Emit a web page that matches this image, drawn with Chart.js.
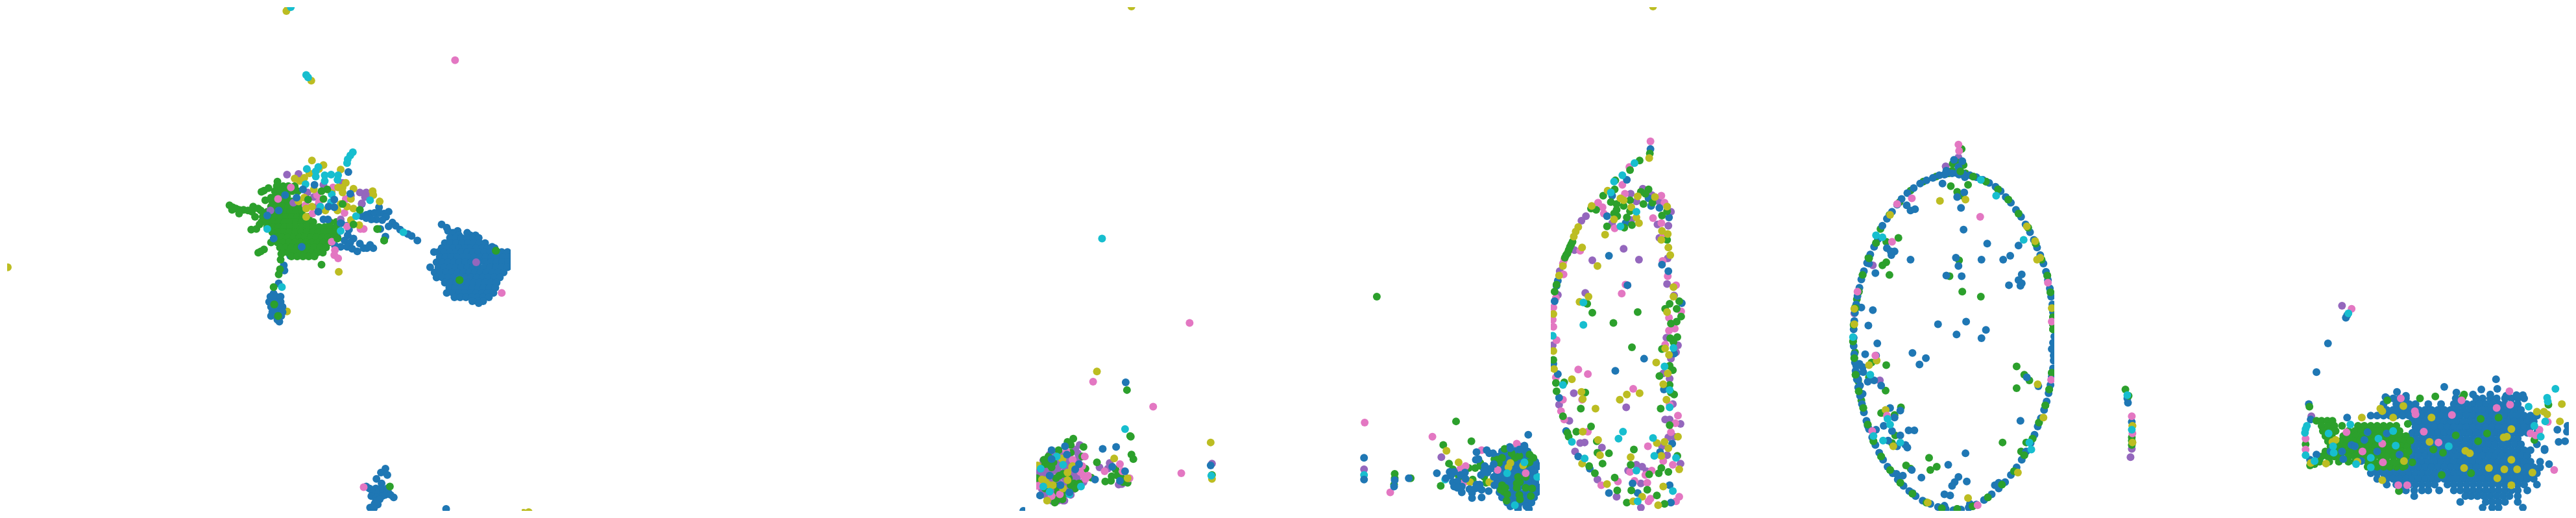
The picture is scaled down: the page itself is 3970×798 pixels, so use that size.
<!DOCTYPE html>
<html><head><meta charset="utf-8">
<script src="https://cdn.jsdelivr.net/npm/chart.js@4"></script>
<style>html,body{margin:0;padding:0;background:#fff;width:3970px;height:798px;overflow:hidden}canvas{position:absolute;top:5px}</style>
</head><body>
<script>
// colours of the six classes
const BLUE='#1f77b4',GREEN='#2ca02c',PURPLE='#9467bd',PINK='#e377c2',OLIVE='#bcbd22',CYAN='#17becf';
// grid-like lists: [y, x, x, x...]   scattered lists: [x,y, x,y, ...]
const a1BlueRows=[[345,685],[350,693],[355,695,710],[358,703,725],[362,712,738,730],[366,698,707,716,725,734,743],[374,690,699,708,717,726,735,744,753],[380,764],[382,685,694,703,712,721,730,739,748,757,768],[388,673,680,689,698,707,716,725,734,743,752,761,770,779,788],[396,682,691,700,709,718,727,736,745,754,763,772,781,790],[404,677,686,695,704,713,722,731,743,753,762,771,780,789],[412,667,680,689,698,707,716,725,734,743,752,761,770,779,788],[420,674,683,692,701,710,719,728,737,746,755,764,773,782],[428,677,686,695,704,713,722,731,740,749,758,767,776],[436,690,699,708,717,726,735,744,753,762,771],[444,697,706,715,724,733,742,751,760,769],[452,693,703,712,721,730,739,748,757,766],[459,705,714,723,732,741,750,759],[465,733,742,750],[468,743],
[453,422],[458,417,426,433],[466,415,424,433],[474,418,427,436],[482,420,429,436],[488,418,427,434],[494,428],[497,431],
[758,572,582,590,600],[765,577,585,593,602],[770,575,592],[772,583,610],[768,597,605],[778,582],[775,588],[782,580],[783,585],[788,573],[789,579]];
const a1Blue=[597,727,590,733,600,737,583,743,591,750,567,755,692,790,587,318,602,325,560,332,567,330,573,328,580,327,588,327,595,328,598,333,592,338,583,337,575,337,567,335,608,342,602,348,613,347,620,353,632,360,638,363,647,370,597,364,589,352,540,353,538,362,547,367,533,370,542,373,527,380,537,380,545,383,553,387,557,375,563,382,573,377,578,382,568,382,518,378,522,365,528,343,537,347,539,263,560,313,448,394,438,409,439,417,430,437];
const a1BlueTop=[466,380,440,299,430,323,412,331,468,290,486,283,458,303,517,306,542,297,508,317,492,325,500,337,517,318,507,337,527,343,422,367];
const a1GreenRows=[[278,428],[285,427,437,445,455],[293,424,433,442,451,460],[301,425,434,443],[309,420,430,440,450,459],[317,418,427,436,445,454,463],[325,412,421,430,439,448,457,466],[333,405,414,423,432,441,450,459,468,477],[341,403,412,421,430,439,448,457,466,475,484,510,520],[349,412,421,430,439,448,457,466,475,484,493,502,511,520],[357,420,429,438,447,456,465,474,483,492,501,510,519],[365,426,435,444,453,462,471,480,489,498,507,516],[373,428,437,446,455,464,473,482,491,500,509],[381,432,441,450,459,468,477,486,495,504],[389,436,445,454,463,472,481,490,499],[395,450,459,468,477,486]];
const a1Green=[353,315,358,318,363,320,368,322,375,322,382,323,368,328,357,322,390,317,398,320,388,325,393,333,402,323,407,292,414,288,403,294,387,353,395,352,400,345,398,389,407,384,402,387,418,373,423,368,497,408,433,400,434,391,432,415,430,423,422,443,409,307,418,303,604,755,423,470,429,488,713,432,770,386,595,370,584,352];
const a1GreenTop=[497,293,506,290,500,305,476,306,557,322,530,313,522,367,547,345,585,352,595,370,423,470,429,488,713,432,770,386];
const a1Purple=[443,267,461,266,567,295,557,295,565,302,573,297,475,295,500,283,530,280,485,302,453,311,417,323,527,337,543,300,560,312,513,292,490,317,739,404];
const a1Pink=[449,287,429,305,490,299,493,310,472,315,515,287,533,327,535,305,563,352,558,352,537,348,513,372,518,385,517,393,523,398,483,328,563,756,779,452,706,88];
const a1Olive=[482,245,500,252,493,258,478,265,470,272,463,277,455,273,527,259,535,280,530,287,523,287,547,289,577,293,578,299,588,309,530,295,513,296,543,305,470,303,461,309,482,317,473,320,503,323,522,323,537,317,527,313,473,333,543,338,556,346,524,419,485,290,547,320,442,11,445,6,447,2,481,120,6,412];
const a1Cyan=[546,232,542,237,538,243,537,249,474,258,488,262,492,255,488,270,502,268,512,267,523,268,522,275,502,277,472,282,513,298,495,317,527,355,551,332,412,352,573,307,435,443,512,310,625,357,449,5,473,111,476,115];
const a2Olive=[801,796,809,795];
const a2Blue=[1583,793];

const b1Purple=[1659,690,1652,697,1656,703,1657,712,1603,735,1623,728,1615,742,1592,733,1652,737,1638,748,1610,767,1633,777,1665,748,1690,725,1706,718,1703,727,1720,752,1725,751,1866,719,2225,709];
const b1PurpleRows=[[705,1612,1622,1632,1642],[714,1602,1612,1622,1632,1642,1652],[723,1597,1607,1617,1627,1637,1647,1657],[732,1595,1605,1615,1625,1635,1645,1655],[741,1595,1605,1615,1625,1635,1645,1655],[750,1597,1607,1617,1627,1637,1647,1657],[759,1600,1610,1620,1630,1640,1650],[768,1605,1615,1625,1635,1645],[777,1615,1625,1635]];
const b1Green=[1649,680,1640,685,1645,690,1665,693,1626,698,1663,708,1668,727,1605,720,1618,717,1645,702,1610,720,1615,725,1627,738,1633,735,1622,742,1650,750,1645,753,1652,758,1658,750,1625,763,1623,776,1632,775,1620,780,1642,742,1592,742,1638,765,1603,713,1610,708,1623,755,1605,758,1686,717,1738,676,1740,705,1743,712,1715,728,1709,739,1718,738,1725,742,1699,747,1708,746,1727,748,1734,749,1677,741,1733,604,1739,677,1866,737,2124,458,2152,735,2152,742,2151,752,2224,754,2177,742,2248,653,2272,684,2228,690,2237,719];
const b1Pink=[1638,700,1667,708,1663,723,1665,738,1672,738,1660,732,1668,743,1615,770,1593,754,1628,767,1648,713,1600,750,1698,731,1722,720,1726,731,1737,742,1680,591,1774,630,1818,734,1831,499,2105,655,2211,677,2145,764];
const b1Olive=[1631,711,1647,724,1593,722,1600,744,1605,745,1617,753,1610,752,1640,733,1648,723,1640,745,1608,777,1633,758,1632,712,1713,711,1734,742,1686,575,1864,686,1866,743,1740,4,2233,699,2252,717];
const b1Cyan=[1623,708,1633,721,1661,755,1612,763,1643,767,1598,727,1602,755,1730,665,1865,738,1694,367,2104,737,2231,744];
const b1Blue=[1636,692,1615,698,1639,705,1658,720,1615,712,1629,753,1643,764,1597,769,1652,728,1612,738,1683,744,1695,696,1716,693,1710,724,1730,731,1722,746,1731,592,1864,722,2104,710,2104,744,2152,745,2151,755,2174,742,2218,734];
const b1Purple2=[2104,728];
const b2BlueRows=[[693,2332,2345,2355],[700,2320,2330,2340,2350,2360],[708,2315,2325,2335,2345,2355,2365],[716,2312,2322,2332,2342,2352,2362,2372],[724,2316,2326,2336,2346,2356,2366,2375],[732,2312,2321,2331,2341,2351,2361,2371],[740,2316,2326,2336,2346,2356,2366,2376],[748,2312,2322,2332,2342,2352,2362,2372],[756,2316,2326,2336,2346,2356,2366,2376],[764,2316,2326,2336,2346,2356,2366,2374],[772,2320,2330,2340,2350,2360,2370],[780,2328,2338,2348,2358,2366],[786,2333,2345,2358],[790,2345,2362]];
const b2Green=[2243,728,2252,738,2268,726,2278,726,2258,742,2274,744,2286,718,2287,723,2292,740,2295,749,2308,712,2324,696,2369,710,2363,705,2323,763,2318,760,2328,767,2345,740,2348,748,2343,750,2357,757,2365,770,2313,713,2320,710,2315,718,2340,710,2347,707,2357,720,2363,717,2327,777,2347,768,2348,775,2335,703,2320,753,2357,740,2325,757,2343,757,2367,758];
const b2Pink=[2288,698,2255,727,2263,723,2260,749,2313,729,2357,734,2343,688];
const b2Olive=[2270,748,2300,748,2333,718,2330,725,2353,722];
const b2Cyan=[2340,784,2328,734,2375,740,2355,717];
const b2Blue=[2280,701,2296,698,2300,703,2306,703,2283,712,2279,713,2238,732,2245,732,2240,738,2232,742,2262,733,2255,737,2243,748,2250,747,2245,755,2257,755,2250,757,2257,764,2269,759,2273,765,2273,773,2288,772,2299,762,2280,752,2285,752,2278,758,2288,760,2282,757,2263,743,2297,733,2302,727,2307,720,2307,740,2308,753,2293,723,2287,737,2292,730,2361,674,2333,695,2355,691,2347,697,2370,730,2375,722];
const b2Purple=[2347,692];

const c1Green=[2539,234,2523,245,2508,260,2485,276,2484,290,2466,300,2447,320,2455,322,2416,376,2412,385,2408,393,2414,380,2410,390,2418,372,2406,397,2393,439,2390,450,2388,557,2392,593,2405,592,2393,606,2403,645,2410,671,2412,677,2444,723,2453,734,2488,761,2484,741,2503,780,2550,769,2562,782,2535,760,2510,761,2509,721,2538,736,2557,726,2553,734,2568,732,2582,707,2514,697,2570,659,2556,633,2577,611,2572,608,2570,596,2554,582,2575,573,2570,566,2558,540,2576,529,2571,523,2582,521,2572,500,2581,497,2588,489,2563,477,2581,477,2570,469,2585,465,2566,369,2558,331,2566,324,2543,311,2529,313,2525,294,2537,290,2532,297,2478,310,2487,313,2487,322,2483,328,2498,316,2508,307,2508,324,2503,334,2511,346,2499,350,2472,348,2488,332,2441,469,2449,483,2520,482,2482,499,2511,537,2438,608,2431,633,2447,661,2424,669,2456,684,2457,702,2475,703,2465,719];
const c1Blue=[2540,227,2503,275,2480,300,2395,433,2393,441,2390,465,2388,563,2395,579,2397,616,2408,668,2427,708,2445,727,2475,765,2520,765,2572,780,2570,753,2512,750,2555,701,2574,688,2561,603,2577,547,2589,468,2568,418,2558,408,2569,334,2554,319,2541,316,2537,304,2501,343,2472,332,2475,394,2504,440,2530,555,2485,574];
const c1Purple=[2439,332,2432,339,2398,418,2395,455,2387,534,2397,627,2413,652,2422,700,2457,744,2487,771,2525,788,2525,750,2518,721,2527,724,2534,731,2505,730,2587,719,2566,706,2558,692,2568,678,2577,677,2587,657,2563,650,2570,650,2575,626,2570,586,2560,578,2572,555,2580,545,2583,534,2565,522,2577,456,2566,438,2567,398,2554,366,2551,345,2568,347,2572,325,2553,309,2528,289,2542,299,2509,297,2518,309,2510,338,2480,343,2421,385,2498,383,2449,401,2522,400,2504,440,2438,452,2420,609,2502,631,2430,687,2437,686,2464,694];
const c1Pink=[2540,215,2507,255,2496,283,2458,311,2465,318,2467,328,2405,400,2403,406,2404,423,2392,460,2388,475,2387,494,2388,505,2393,526,2392,584,2403,619,2400,637,2405,650,2463,753,2489,747,2537,778,2580,778,2585,771,2535,749,2515,746,2540,774,2542,730,2532,737,2508,732,2575,721,2560,715,2536,692,2572,670,2579,656,2583,644,2570,627,2563,533,2569,511,2578,508,2588,481,2569,491,2580,440,2567,426,2559,402,2560,364,2557,343,2544,335,2562,311,2557,300,2500,297,2484,351,2430,386,2501,439,2495,453,2427,572,2442,579,2433,619,2513,602,2442,669];
const c1Olive=[2538,241,2473,292,2448,316,2427,349,2423,356,2420,364,2403,410,2397,425,2388,485,2388,543,2389,571,2433,719,2472,751,2513,778,2527,771,2552,784,2560,755,2585,728,2557,707,2509,709,2550,687,2562,685,2568,695,2583,677,2565,619,2560,595,2567,578,2549,561,2569,549,2563,539,2566,482,2576,458,2576,443,2571,393,2568,381,2557,369,2567,360,2558,355,2566,317,2547,302,2493,304,2498,307,2520,301,2510,318,2518,334,2522,343,2483,337,2469,361,2433,381,2457,410,2443,458,2429,466,2417,587,2432,607,2434,618,2454,633,2503,611,2523,609,2492,619,2434,669,2458,682,2461,706,2544,4];
const c1Cyan=[2515,249,2496,268,2483,278,2478,295,2403,596,2417,685,2437,711,2387,519,2520,778,2575,762,2518,730,2580,710,2546,707,2544,679,2570,631,2570,604,2562,567,2576,538,2518,325,2493,348,2435,467,2435,502,2497,669,2490,680];
const ringBlue=[3020,265,3030,266,3040,268,3050,271,3060,275,3070,280,3080,286,3088,293,3096,302,3104,311,3112,322,3120,333,3127,345,3134,357,3140,369,3145,381,3150,393,3155,406,3159,419,3162,432,3165,445,3167,458,3169,470,3170,482,3171,495,3171,508,3172,520,3172,532,3172,545,3171,558,3170,570,3168,583,3166,596,3163,609,3160,622,3156,635,3151,648,3146,661,3141,674,3135,687,3128,700,3121,713,3113,725,3104,737,3095,748,3085,758,3074,767,3062,776,3050,783,3038,788,3026,791,3014,792,3002,790,2990,787,2978,782,2966,777,2955,770,2945,762,2936,754,2927,744,2919,734,2911,724,2904,713,2898,702,2892,690,2887,678,2882,665,2878,652,2874,639,2871,626,2868,613,2865,600,2863,587,2861,574,2860,561,2859,548,2858,535,2858,522,2858,509,2859,496,2860,483,2862,470,2864,457,2867,444,2870,431,2874,418,2879,405,2884,392,2890,380,2896,368,2903,347,2910,336,2918,325,2926,314,2933,305,2942,296,2952,288,2962,281,2972,276,2982,272,2992,268,3002,266,3012,265];
const ringBlue2=[3015,244,3028,246,3022,255,3003,261,3000,267,3023,267,3032,271,2997,281,3031,295,3020,302,3026,319,3030,353,3067,375,3116,378,3103,394,3092,400,3058,400,3018,397,3022,410,2947,400,3003,425,3027,426,3121,423,3116,432,3121,437,3101,440,3119,441,2870,475,2888,479,2881,503,2990,501,3034,497,3065,510,3019,517,3058,523,2895,531,2950,546,2971,554,2961,564,3129,584,3147,598,3119,652,3033,703,3006,721,2949,729,2964,741,2935,738,3022,740,3016,748,3012,754,3035,747,3085,749,3079,753,3000,767,3009,769,2941,315,2947,323,2954,321,2910,382,2922,387,2917,393,2916,387,2892,421,2882,406,2876,548,2893,550,2867,563,2872,568,2862,566,2863,578,2873,576,2890,589,2901,597,2880,591,2868,597,2865,587,2915,632,2931,636,2922,647,2905,660,2893,666,2918,668,2944,667,2953,667,2931,675,2912,683,2926,692,2939,690,2942,694,3170,530,3171,550,3168,540,3000,785,2950,765,2925,735,2880,660,2872,610,3040,782];
const ringGreen=[3025,262,3045,270,3065,278,3084,290,3100,306,3116,328,3131,350,3143,375,3152,400,3161,425,3166,451,3170,476,3170,509,3170,501,3170,490,3168,577,3164,603,3158,628,3148,655,3138,680,3125,706,3109,731,3090,752,3068,772,3044,786,3020,790,2996,789,2972,780,2950,766,2931,749,2915,729,2901,708,2889,684,2880,658,2873,632,2866,606,2861,580,2859,554,2857,528,2858,502,2861,476,2866,450,2872,424,2882,398,2893,374,2900,352,2914,330,2930,310,2947,292,2967,278,2987,270,3007,265,3013,250,3030,252,3020,248,3012,261,3033,265,3027,227,3010,285,3037,283,3020,294,3028,300,3023,401,3008,426,3028,450,3057,458,3113,567,3125,580,3133,589,3113,601,3091,686,3128,686,3120,700,2976,710,2988,724,2978,729,2940,722,2947,727,2928,366,2909,372,2881,397,2909,404,2903,409,2914,424,2886,561,2909,565,2882,584,2908,605,2901,640,2932,631,2922,643,2923,675,2918,687,2870,620,2865,590,2860,545,2860,475,2863,462];
const ringOlive=[2993,308,3033,306,3146,595,3037,773,2974,780,2915,330,2894,558,2882,565,2908,635,2920,692,3129,348,3142,371,3150,397,3145,400,3168,476,3155,647,3115,733,2859,477,2859,501];
const ringPink=[3022,220,3023,230,3056,333,3052,784,2926,313,2949,304,2918,372,2892,550,2910,644,2887,668,3162,436,3168,497,3167,588,2864,450];
const ringCyan=[3057,275,3081,300,3124,369,3133,686,3136,697,2893,362,2903,365,2884,580,2911,649,2915,658,2889,676,2904,683,2931,686,2857,521];
const ringPurple=[3022,240,3002,254,2888,409,2899,589,2859,484];

const d1Green=[3271,603,3276,613,3281,678,3281,683,3281,690,3559,630,3560,722,3567,720,3756,614,3801,611,3799,615,3732,617,3681,620,3855,647,3827,649,3837,672,3788,675,3823,684,3766,737,3812,734,3708,723,3699,762,3717,683,3753,697,3720,717,3768,702,3692,717,3713,657,3911,682,3933,627,3553,689];
const d1GreenRows=[[652,3570,3578,3587,3595],[660,3578,3588,3598,3610,3635,3645,3655,3665,3675,3685,3695],[668,3580,3590,3600,3620,3630,3640,3650,3660,3670,3680,3690,3700],[676,3584,3594,3612,3622,3632,3642,3652,3662,3672,3682,3692,3702,3710],[684,3588,3598,3608,3618,3628,3638,3648,3658,3668,3678,3688,3698,3708],[692,3592,3602,3612,3622,3632,3642,3652,3662,3672,3682,3692,3702,3712],[700,3584,3594,3604,3614,3624,3634,3644,3654,3664,3674,3684,3694,3704,3714],[708,3578,3588,3598,3608,3620,3630,3640,3650,3660,3670,3680,3690,3700,3710],[716,3575,3590,3605,3620,3630,3650,3660,3670,3680,3690,3700],[724,3650,3665,3675,3685,3695,3705]];
const d1BlueRows=[[617,3680,3690,3700,3710,3788,3820,3830,3842,3852,3865,3875,3885,3895],[626,3675,3695,3705,3715,3725,3745,3765,3785,3795,3805,3815,3825,3835,3845,3855,3865,3875,3885],[635,3680,3690,3700,3710,3720,3730,3740,3750,3760,3770,3780,3790,3800,3810,3820,3830,3840,3850,3860,3870,3880,3890],[644,3655,3665,3675,3685,3695,3705,3715,3725,3735,3745,3755,3765,3775,3785,3795,3805,3815,3825,3835,3845,3855,3865,3875,3885,3895,3905,3915],[653,3720,3730,3740,3750,3760,3770,3780,3790,3800,3810,3820,3830,3840,3850,3860,3870,3880,3890,3900,3910],[662,3725,3735,3745,3755,3765,3775,3785,3795,3805,3815,3825,3835,3845,3855,3865,3875,3885,3895,3905],[671,3720,3730,3740,3750,3760,3770,3780,3790,3800,3810,3820,3830,3840,3850,3860,3870,3880,3890,3900],[680,3715,3725,3735,3745,3755,3765,3775,3785,3795,3805,3815,3825,3835,3845,3855,3865,3875,3885],[689,3720,3730,3740,3750,3760,3770,3780,3790,3800,3810,3820,3830,3840,3850,3860,3870,3880,3890,3915],[698,3715,3725,3735,3745,3755,3765,3775,3785,3795,3805,3815,3825,3835,3845,3855,3865,3875,3885,3895,3905,3927],[707,3720,3730,3740,3750,3760,3770,3780,3790,3800,3810,3820,3830,3840,3850,3860,3870,3880,3890,3900],[716,3715,3725,3735,3745,3755,3765,3775,3785,3795,3805,3815,3825,3835,3845,3855,3865,3875,3885,3895,3905,3920],[725,3660,3670,3680,3690,3700,3710,3720,3730,3740,3750,3760,3770,3780,3790,3800,3810,3820,3830,3840,3850,3860,3870,3880,3890,3900,3910,3920],[734,3655,3665,3675,3685,3695,3705,3715,3725,3735,3745,3755,3765,3775,3785,3795,3805,3815,3825,3835,3845,3855,3865,3875,3885,3895,3905,3915],[743,3665,3680,3690,3700,3710,3720,3730,3740,3750,3760,3770,3780,3790,3800,3810,3820,3830,3840,3850,3860,3870,3880,3890,3900,3910],[752,3680,3695,3705,3715,3725,3735,3745,3755,3775,3785,3795,3805,3815,3825,3835,3845,3855,3865,3875,3885,3895,3915],[761,3700,3710,3723,3735,3745,3762,3785,3795,3805,3815,3825,3835,3845,3855,3865,3875,3885,3900],[770,3723,3803,3812,3822,3832,3842,3852,3862,3872,3885],[779,3795,3835,3845,3855,3865,3885],[788,3830,3845,3855,3893]];
const d1Blue=[3274,617,3275,624,3281,654,3618,487,3616,491,3588,531,3570,576,3558,626,3561,650,3560,713,3770,599,3851,587,3853,602,3828,603,3789,608,3696,607,3678,615,3710,613,3947,666,3963,660,3962,669,3949,685,3959,684,3934,720,3927,696,3918,669,3883,612,3893,612,3867,613,3815,611,3842,611];
const d1BlueTop=[3618,647,3610,700,3625,690,3650,670,3665,700,3592,700,3570,705,3612,712,3640,715,3630,692,3916,669,3680,672,3645,682,3700,705];
const d1Purple=[3281,696,3279,709,3610,472,3562,645,3643,661,3639,689,3682,693,3878,648];
const d1Pink=[3281,645,3282,672,3625,477,3553,680,3553,697,3872,606,3873,627,3852,632,3797,620,3782,643,3738,669,3724,637,3725,642,3702,617,3761,686,3674,717,3712,753,3698,753,3673,688,3617,670,3642,700,3932,654,3919,666,3905,672,3913,675,3942,729];
const d1Olive=[3282,660,3282,686,3561,718,3585,719,3801,726,3840,726,3864,728,3884,728,3853,742,3875,665,3863,678,3868,677,3908,733,3803,699,3810,703,3747,685,3673,745,3634,716,3706,629,3670,633,3673,637,3690,647,3641,647,3750,647,3875,713,3707,715,3600,682,3595,685,3875,753,3954,626,3926,638,3931,642,3951,653,3915,638];
const d1Cyan=[3274,612,3281,666,3620,484,3552,671,3555,660,3553,665,3553,706,3567,715,3623,658,3589,672,3694,691,3655,710,3596,692,3597,702,3667,680,3777,692,3632,720,3690,668,3655,725,3944,602,3931,616,3932,622,3928,653,3902,630,3911,660,3921,677];

// helpers turn the lists into points
const pairs=a=>{const o=[];for(let i=0;i<a.length;i+=2)o.push({x:a[i],y:a[i+1]});return o;};
const rows=r=>r.flatMap(([y,...xs])=>xs.map(x=>({x,y})));
const L=(color,...parts)=>({color,pts:parts.flat()});

const panels=[
 {left:5,layers:[L(OLIVE,pairs([443,481])),L(BLUE,rows(a1BlueRows),pairs(a1Blue)),L(GREEN,rows(a1GreenRows),pairs(a1Green)),L(PURPLE,pairs(a1Purple)),L(PINK,pairs(a1Pink)),L(OLIVE,pairs(a1Olive)),L(CYAN,pairs(a1Cyan)),L(GREEN,pairs(a1GreenTop)),L(BLUE,pairs(a1BlueTop))]},
 {left:798,layers:[L(OLIVE,pairs(a2Olive)),L(BLUE,pairs(a2Blue))]},
 {left:1591,layers:[L(BLUE,rows(b2BlueRows)),L(PURPLE,rows(b1PurpleRows),pairs(b1Purple),pairs(b2Purple),pairs(b1Purple2)),L(GREEN,pairs(b1Green),pairs(b2Green)),L(PINK,pairs(b1Pink),pairs(b2Pink)),L(OLIVE,pairs(b1Olive),pairs(b2Olive)),L(CYAN,pairs(b1Cyan),pairs(b2Cyan)),L(BLUE,pairs(b1Blue),pairs(b2Blue))]},
 {left:2384,layers:[L(PURPLE,pairs(c1Purple),pairs(ringPurple)),L(PINK,pairs(c1Pink)),L(BLUE,pairs(c1Blue)),L(GREEN,pairs(c1Green),pairs(ringGreen)),L(OLIVE,pairs(c1Olive)),L(CYAN,pairs(c1Cyan)),L(BLUE,pairs(ringBlue),pairs(ringBlue2)),L(GREEN,pairs(ringGreen.slice(0,90))),L(OLIVE,pairs(ringOlive)),L(PINK,pairs(ringPink)),L(CYAN,pairs(ringCyan))]},
 {left:3177,layers:[L(PURPLE,pairs(d1Purple)),L(OLIVE,pairs(d1Olive.slice(0,4))),L(BLUE,rows(d1BlueRows),pairs(d1Blue)),L(GREEN,rows(d1GreenRows),pairs(d1Green)),L(BLUE,pairs(d1BlueTop)),L(PINK,pairs(d1Pink)),L(OLIVE,pairs(d1Olive)),L(CYAN,pairs(d1Cyan))]}
];
const SIZE=788;
panels.forEach(p=>{
  const c=document.createElement('canvas');c.width=SIZE;c.height=SIZE;c.style.left=p.left+'px';document.body.appendChild(c);
  new Chart(c,{type:'scatter',data:{datasets:p.layers.map((l,i)=>({data:l.pts,backgroundColor:l.color,borderWidth:0,pointRadius:6,pointHoverRadius:6,order:p.layers.length-i}))},
  options:{responsive:false,animation:false,devicePixelRatio:1,layout:{padding:0},plugins:{legend:{display:false},tooltip:{enabled:false}},
  scales:{x:{type:'linear',display:false,min:p.left,max:p.left+SIZE},y:{type:'linear',display:false,min:5,max:5+SIZE,reverse:true}}}});
});
</script>
</body></html>
